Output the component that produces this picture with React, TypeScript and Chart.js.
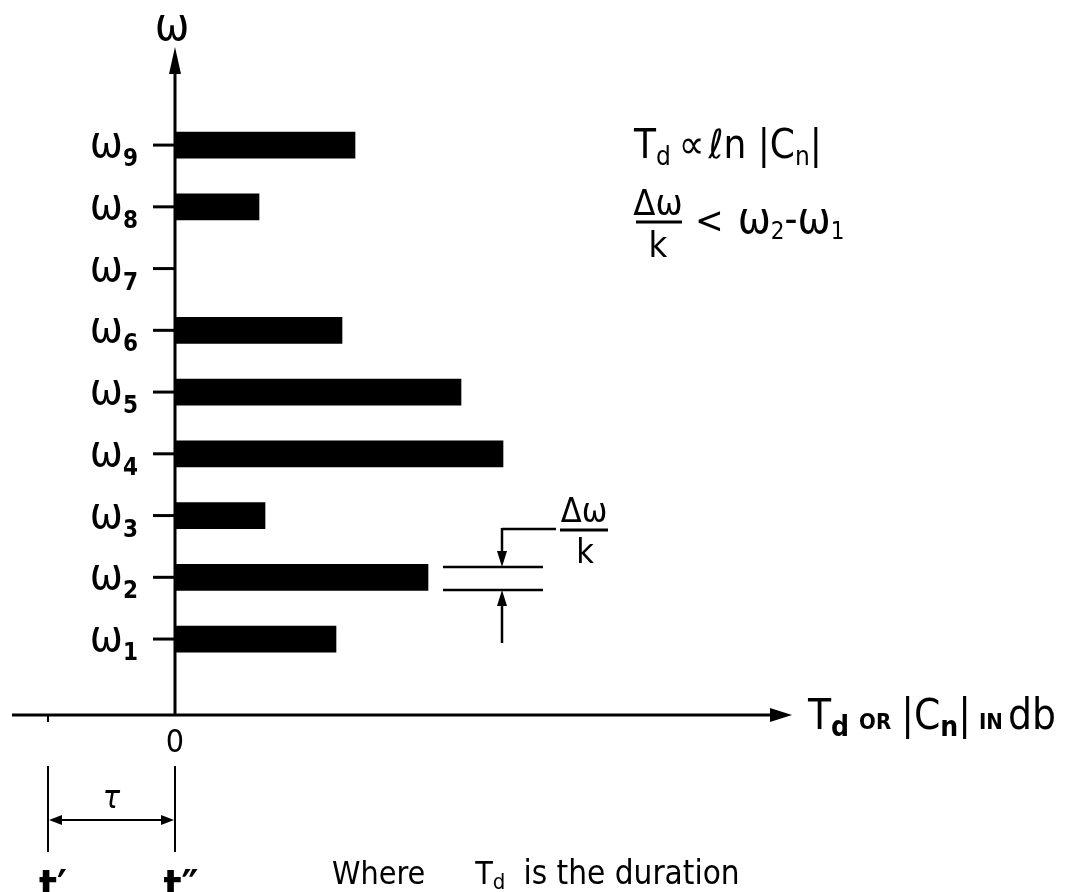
import React, { useEffect, useRef } from "react";
import { Chart, registerables } from "chart.js";

Chart.register(...registerables);

// ---- data ----
const omegaIndex = [1, 2, 3, 4, 5, 6, 7, 8, 9];
const omegaSubs = ["1", "2", "3", "4", "5", "6", "7", "8", "9"];
const tdValues: (number | null)[] = [16.1, 25.3, 9.0, 32.8, 28.6, 16.7, null, 8.4, 18.0];
const xRange = [-16.3, 61.5];
const yRange = [-0.23, 10.54];
const tauStart = -12.7;

const FONT = '"DejaVu Sans Condensed", "DejaVu Sans", "Liberation Sans", sans-serif';
const f = (size: number, weight = "normal", style = "normal") => `${style} ${weight} ${size}px ${FONT}`;

type Run = { t: string; font: string; dy?: number; gap?: number };

function drawRuns(ctx: CanvasRenderingContext2D, parts: Run[], x: number, y: number, align: "left" | "center" | "right") {
  let total = 0;
  const widths = parts.map((p) => {
    ctx.font = p.font;
    const w = ctx.measureText(p.t).width + (p.gap || 0);
    total += w;
    return w;
  });
  let cx = align === "center" ? x - total / 2 : align === "right" ? x - total : x;
  ctx.textAlign = "left";
  ctx.textBaseline = "alphabetic";
  parts.forEach((p, i) => {
    ctx.font = p.font;
    ctx.fillText(p.t, cx, y + (p.dy || 0));
    cx += widths[i];
  });
}

function line(ctx: CanvasRenderingContext2D, x1: number, y1: number, x2: number, y2: number, w = 3) {
  ctx.lineWidth = w;
  ctx.beginPath();
  ctx.moveTo(x1, y1);
  ctx.lineTo(x2, y2);
  ctx.stroke();
}

function tri(ctx: CanvasRenderingContext2D, pts: number[][]) {
  ctx.beginPath();
  ctx.moveTo(pts[0][0], pts[0][1]);
  ctx.lineTo(pts[1][0], pts[1][1]);
  ctx.lineTo(pts[2][0], pts[2][1]);
  ctx.closePath();
  ctx.fill();
}

const drawingPlugin = {
  id: "drawing",
  afterDraw(chart: any) {
    const ctx: CanvasRenderingContext2D = chart.ctx;
    const xs = chart.scales.x;
    const ys = chart.scales.y;
    const x0 = xs.getPixelForValue(0);
    const y0 = ys.getPixelForValue(yRange[0]);
    const yTop = ys.getPixelForValue(yRange[1]);
    const xLeft = xs.getPixelForValue(xRange[0]);
    const xRight = xs.getPixelForValue(xRange[1]);
    const xTau = xs.getPixelForValue(tauStart);
    ctx.save();
    ctx.strokeStyle = "#000";
    ctx.fillStyle = "#000";
    ctx.lineCap = "butt";

    // axes
    line(ctx, x0, y0 + 1, x0, yTop + 20, 3);
    tri(ctx, [[x0, yTop - 3], [x0 - 6, yTop + 24], [x0 + 6, yTop + 24]]);
    line(ctx, xLeft, y0, xRight - 18, y0, 3);
    tri(ctx, [[xRight + 2, y0], [xRight - 20, y0 - 7], [xRight - 20, y0 + 7]]);
    line(ctx, xTau, y0, xTau, y0 + 7, 2);

    // y ticks and labels
    omegaIndex.forEach((n, i) => {
      const py = ys.getPixelForValue(n);
      line(ctx, x0 - 22, py, x0, py, 3);
      drawRuns(ctx, [
        { t: "ω", font: f(44) },
        { t: omegaSubs[i], font: f(24, "bold"), dy: 9 },
      ], 138, py + 12, "right");
    });

    // axis titles
    drawRuns(ctx, [{ t: "ω", font: f(46) }], x0 - 3, 40, "center");
    drawRuns(ctx, [{ t: "0", font: f(32) }], x0, 752, "center");
    drawRuns(ctx, [
      { t: "T", font: f(42) },
      { t: "d", font: f(28, "bold"), dy: 7, gap: 10 },
      { t: "OR", font: f(22, "bold"), gap: 10 },
      { t: "|C", font: f(42) },
      { t: "n", font: f(28, "bold"), dy: 7 },
      { t: "|", font: f(42), gap: 8 },
      { t: "IN", font: f(22, "bold"), gap: 5 },
      { t: "db", font: f(42) },
    ], 808, 729, "left");

    // top right formulas
    drawRuns(ctx, [
      { t: "T", font: f(40) },
      { t: "d", font: f(26), dy: 7, gap: 8 },
      { t: "∝", font: f(40), gap: 4 },
      { t: "ℓn ", font: f(40) },
      { t: "|C", font: f(40) },
      { t: "n", font: f(26), dy: 7 },
      { t: "|", font: f(40) },
    ], 634, 158, "left");
    drawRuns(ctx, [{ t: "Δω", font: f(36) }], 658, 215, "center");
    line(ctx, 636, 222, 682, 222, 3);
    drawRuns(ctx, [{ t: "k", font: f(36) }], 658, 257, "center");
    drawRuns(ctx, [
      { t: "<", font: f(38), gap: 14 },
      { t: "ω", font: f(44) },
      { t: "2", font: f(24), dy: 6 },
      { t: "-", font: f(40) },
      { t: "ω", font: f(44) },
      { t: "1", font: f(24), dy: 6 },
    ], 695, 233, "left");

    // Δω/k dimension between ω2 and ω1 bars
    const yA = 567, yB = 590, xd = 502;
    line(ctx, 443, yA, 543, yA, 2.5);
    line(ctx, 443, yB, 543, yB, 2.5);
    line(ctx, xd, 529, 556, 529, 2.5);
    line(ctx, xd, 528, xd, yA - 12, 2.5);
    tri(ctx, [[xd, yA], [xd - 5, yA - 16], [xd + 5, yA - 16]]);
    line(ctx, xd, 643, xd, yB + 12, 2.5);
    tri(ctx, [[xd, yB], [xd - 5, yB + 16], [xd + 5, yB + 16]]);
    drawRuns(ctx, [{ t: "Δω", font: f(34) }], 584, 522, "center");
    line(ctx, 560, 530, 608, 530, 3);
    drawRuns(ctx, [{ t: "k", font: f(34) }], 585, 563, "center");

    // τ dimension
    line(ctx, xTau, 766, xTau, 852, 2);
    line(ctx, x0, 766, x0, 852, 2);
    line(ctx, xTau + 10, 820, x0 - 10, 820, 2);
    tri(ctx, [[xTau + 1, 820], [xTau + 14, 815], [xTau + 14, 825]]);
    tri(ctx, [[x0 - 1, 820], [x0 - 14, 815], [x0 - 14, 825]]);
    drawRuns(ctx, [{ t: "τ", font: f(32, "normal", "italic") }], (xTau + x0) / 2, 808, "center");
    drawRuns(ctx, [{ t: "t′", font: f(42, "bold") }], xTau + 5, 900, "center");
    drawRuns(ctx, [{ t: "t″", font: f(42, "bold") }], x0 + 6, 900, "center");
    drawRuns(ctx, [
      { t: "Where", font: f(32), gap: 50 },
      { t: "T", font: f(32) },
      { t: "d", font: f(22), dy: 5, gap: 18 },
      { t: "is the duration", font: f(33) },
    ], 332, 884, "left");

    ctx.restore();
  },
};

export default function App() {
  const ref = useRef<HTMLCanvasElement>(null);
  useEffect(() => {
    if (!ref.current) return;
    const points = omegaIndex.map((n, i) => ({ y: n, x: tdValues[i] }));
    const chart = new Chart(ref.current, {
      type: "bar",
      data: {
        datasets: [
          {
            label: "Td",
            data: points as any,
            backgroundColor: "#000",
            borderWidth: 0,
            barThickness: 26,
          },
        ],
      },
      options: {
        indexAxis: "y",
        responsive: false,
        animation: false,
        layout: { padding: { left: 12, right: 275, top: 50, bottom: 177 } },
        scales: {
          x: { type: "linear", min: xRange[0], max: xRange[1], display: false, offset: false },
          y: { type: "linear", min: yRange[0], max: yRange[1], display: false, offset: false },
        },
        plugins: { legend: { display: false }, tooltip: { enabled: false } },
      },
      plugins: [drawingPlugin],
    });
    return () => chart.destroy();
  }, []);
  return (
    <div style={{ position: "absolute", left: 0, top: 0, width: 1065, height: 892, background: "#fff", overflow: "hidden" }}>
      <canvas ref={ref} width={1065} height={892} style={{ display: "block" }} />
    </div>
  );
}
